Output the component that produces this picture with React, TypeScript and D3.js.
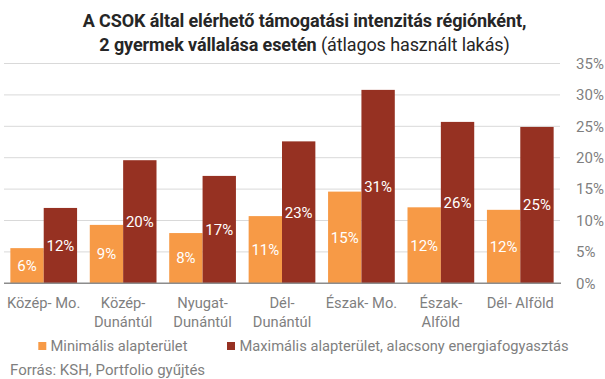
import React from "react";
import * as d3 from "d3";

const categories: string[][] = [
  ["Közép- Mo."],
  ["Közép-", "Dunántúl"],
  ["Nyugat-", "Dunántúl"],
  ["Dél-", "Dunántúl"],
  ["Észak- Mo."],
  ["Észak-", "Alföld"],
  ["Dél- Alföld"],
];
const minValues = [5.6, 9.3, 8.0, 10.7, 14.6, 12.1, 11.7];
const maxValues = [12.0, 19.6, 17.1, 22.6, 30.8, 25.7, 24.9];
const seriesNames = ["Minimális alapterület", "Maximális alapterület, alacsony energiafogyasztás"];
const yTicks = [0, 5, 10, 15, 20, 25, 30, 35];
const titleLine1 = "A CSOK által elérhető támogatási intenzitás régiónként,";
const titleLine2Bold = "2 gyermek vállalása esetén";
const titleLine2Rest = " (átlagos használt lakás)";
const source = "Forrás: KSH, Portfolio gyűjtés";

const W = 605;
const H = 379;
const colors = ["#F79A46", "#963122"];
const font = "Roboto, 'Noto Sans', sans-serif";
const gray = "#7f7f7f";

export default function App() {
  const left = 4, right = 560, top = 63.5, bottom = 283.3;
  const x = d3.scaleBand<number>().domain(d3.range(categories.length)).range([left, right]).paddingInner(0.16).paddingOuter(0.08);
  const x1 = d3.scaleBand<number>().domain([0, 1]).range([0, x.bandwidth()]);
  const y = d3.scaleLinear().domain([0, 35]).range([bottom, top]);
  const series = [minValues, maxValues];

  return (
    <svg width={W} height={H} style={{ position: "absolute", left: 0, top: 0, background: "#fff" }} fontFamily={font}>
      <text x={W / 2 + 2} y={27} textAnchor="middle" fontSize={18} fontWeight={700} fill="#262626" letterSpacing={-0.1}>
        {titleLine1}
      </text>
      <text x={W / 2 + 2} y={51} textAnchor="middle" fontSize={18} fill="#262626" letterSpacing={-0.1}>
        <tspan fontWeight={700}>{titleLine2Bold}</tspan>
        <tspan fontWeight={400}>{titleLine2Rest}</tspan>
      </text>
      {yTicks.map((t) => (
        <g key={t}>
          {t > 0 && <line x1={left} x2={right} y1={y(t)} y2={y(t)} stroke="#d9d9d9" strokeWidth={1} />}
          <text x={576} y={y(t)} dy="0.35em" fontSize={15} fill={gray}>
            {t}%
          </text>
        </g>
      ))}
      {series.map((vals, si) =>
        vals.map((v, i) => {
          const bx = (x(i) as number) + (x1(si) as number);
          const bw = x1.bandwidth();
          return (
            <g key={`${si}-${i}`}>
              <rect x={bx} y={y(v)} width={bw} height={bottom - y(v)} fill={colors[si]} />
              <text x={bx + bw / 2} y={(y(v) + bottom) / 2} dy="0.35em" textAnchor="middle" fontSize={15} fill="#fff">
                {Math.round(v)}%
              </text>
            </g>
          );
        })
      )}
      <line x1={left} x2={right + 1} y1={bottom} y2={bottom} stroke="#8c8c8c" strokeWidth={1.5} />
      {categories.map((lines, i) => (
        <text key={i} x={(x(i) as number) + x.bandwidth() / 2} y={308} textAnchor="middle" fontSize={14.7} fill={gray}>
          {lines.map((l, j) => (
            <tspan key={j} x={(x(i) as number) + x.bandwidth() / 2} dy={j === 0 ? 0 : 19}>
              {l}
            </tspan>
          ))}
        </text>
      ))}
      <rect x={38.3} y={342} width={8} height={8} fill={colors[0]} />
      <text x={50.5} y={346} dy="0.35em" fontSize={14.7} fill={gray}>{seriesNames[0]}</text>
      <rect x={227} y={342} width={8} height={8} fill={colors[1]} />
      <text x={239.5} y={346} dy="0.35em" fontSize={14.7} fill={gray}>{seriesNames[1]}</text>
      <text x={10} y={370} dy="0.35em" fontSize={15} fill={gray}>{source}</text>
    </svg>
  );
}
